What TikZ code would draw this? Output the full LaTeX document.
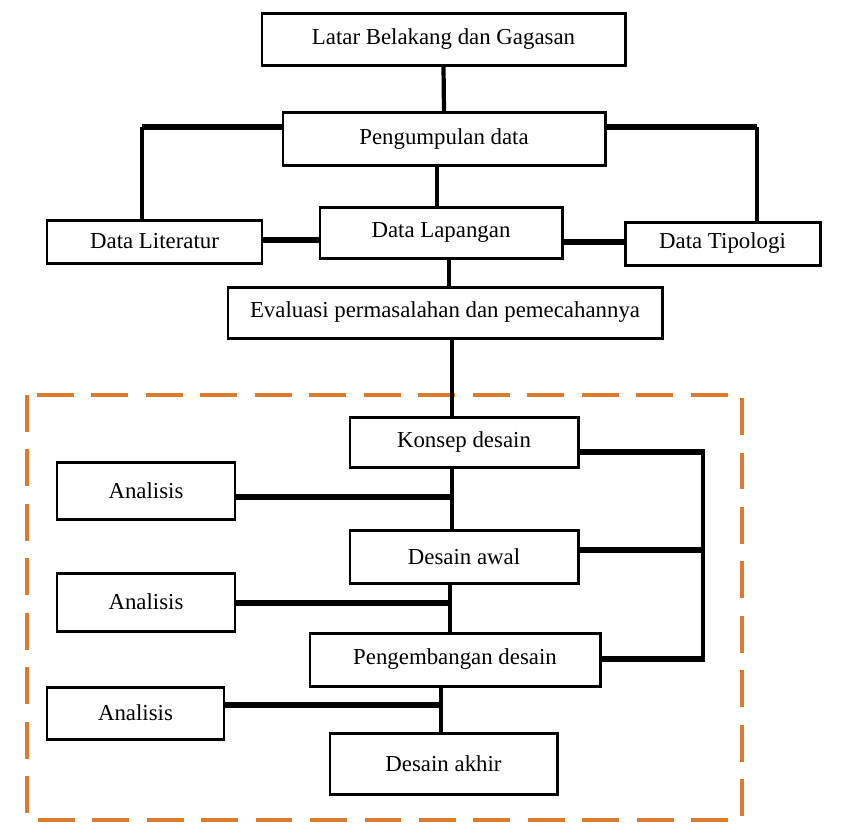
\documentclass[tikz,border=0pt]{standalone}
\usepackage{fontspec}
\setmainfont{Liberation Serif}
\definecolor{garisoranye}{RGB}{219,123,43}
\tikzset{
  kotak/.style={draw,rectangle,line width=1.7pt,fill=white,inner sep=0pt,font=\fontsize{13}{15}\selectfont},
  hbar/.style={line width=3.6pt},
  vbar/.style={line width=2.4pt},
}
\begin{document}
\begin{tikzpicture}[x=0.02cm,y=-0.02cm]
		\useasboundingbox (0,0) rectangle (841,823);
		%frame
		\draw[garisoranye,line width=2.3pt,dash pattern=on 21pt off 10pt] (27,395) rectangle (742,820);
		%upper boxes
		\node[kotak,minimum width=363*0.02cm,minimum height=52*0.02cm](latar) at (443.5,39) {Latar Belakang dan Gagasan};
		\node[kotak,minimum width=322*0.02cm,minimum height=53*0.02cm](kumpul) at (444,139) {Pengumpulan data};
		\node[kotak,minimum width=215*0.02cm,minimum height=43*0.02cm](literatur) at (154.5,241.5) {Data Literatur};
		\node[kotak,minimum width=242*0.02cm,minimum height=51*0.02cm](lapangan) at (441,232.5) {Data Lapangan};
		\node[kotak,minimum width=195*0.02cm,minimum height=43*0.02cm](tipologi) at (722.5,243.5) {Data Tipologi};
		\node[kotak,minimum width=434*0.02cm,minimum height=51*0.02cm](evaluasi) at (445,312.5) {Evaluasi permasalahan dan pemecahannya};
		%design boxes
		\node[kotak,minimum width=228*0.02cm,minimum height=50*0.02cm](konsep) at (464,442) {Konsep desain};
		\node[kotak,minimum width=228*0.02cm,minimum height=53*0.02cm](awal) at (464,556.5) {Desain awal};
		\node[kotak,minimum width=290*0.02cm,minimum height=53*0.02cm](kembang) at (455,659.5) {Pengembangan desain};
		\node[kotak,minimum width=227*0.02cm,minimum height=61*0.02cm](akhir) at (443.5,763.5) {Desain akhir};
		\node[kotak,minimum width=178*0.02cm,minimum height=57*0.02cm](analisisA) at (146,490.5) {Analisis};
		\node[kotak,minimum width=178*0.02cm,minimum height=58*0.02cm](analisisB) at (146,602) {Analisis};
		\node[kotak,minimum width=177*0.02cm,minimum height=52*0.02cm](analisisC) at (135.5,713) {Analisis};
		%junctions
		\coordinate (kiri) at (142,127);
		\coordinate (kanan) at (757,127);
		\coordinate (jA) at (452,497);
		\coordinate (jB) at (450,603);
		\coordinate (jC) at (441,705);
		\coordinate (busA) at (703,452);
		\coordinate (busB) at (703,550);
		\coordinate (busC) at (703,659);
		%upper lines
		\draw[vbar] (latar.south) -- (kumpul.north);
		\draw[hbar] (kumpul.west |- kiri) -- (kiri);
		\draw[vbar] (kiri) -- (literatur.north -| kiri);
		\draw[hbar] (kumpul.east |- kanan) -- (kanan);
		\draw[vbar] (kanan) -- (tipologi.north -| kanan);
		\draw[vbar] (kumpul.south -| 437,0) -- (lapangan.north -| 437,0);
		\draw[hbar] (literatur.east |- 0,240) -- (lapangan.west |- 0,240);
		\draw[hbar] (lapangan.east |- 0,242) -- (tipologi.west |- 0,242);
		\draw[vbar] (lapangan.south -| 449,0) -- (evaluasi.north -| 449,0);
		\draw[vbar] (evaluasi.south -| 452,0) -- (konsep.north -| 452,0);
		%design lines
		\draw[vbar] (konsep.south -| jA) -- (awal.north -| jA);
		\draw[hbar] (analisisA.east |- jA) -- (jA);
		\draw[vbar] (awal.south -| jB) -- (kembang.north -| jB);
		\draw[hbar] (analisisB.east |- jB) -- (jB);
		\draw[vbar] (kembang.south -| jC) -- (akhir.north -| jC);
		\draw[hbar] (analisisC.east |- jC) -- (jC);
		%feedback
		\draw[hbar] (konsep.east |- busA) -- (busA);
		\draw[hbar] (awal.east |- busB) -- (busB);
		\draw[hbar] (kembang.east |- busC) -- (busC);
		\draw[vbar] ([yshift=1.8pt]busA) -- ([yshift=-1.8pt]busC);
\end{tikzpicture}
\end{document}
